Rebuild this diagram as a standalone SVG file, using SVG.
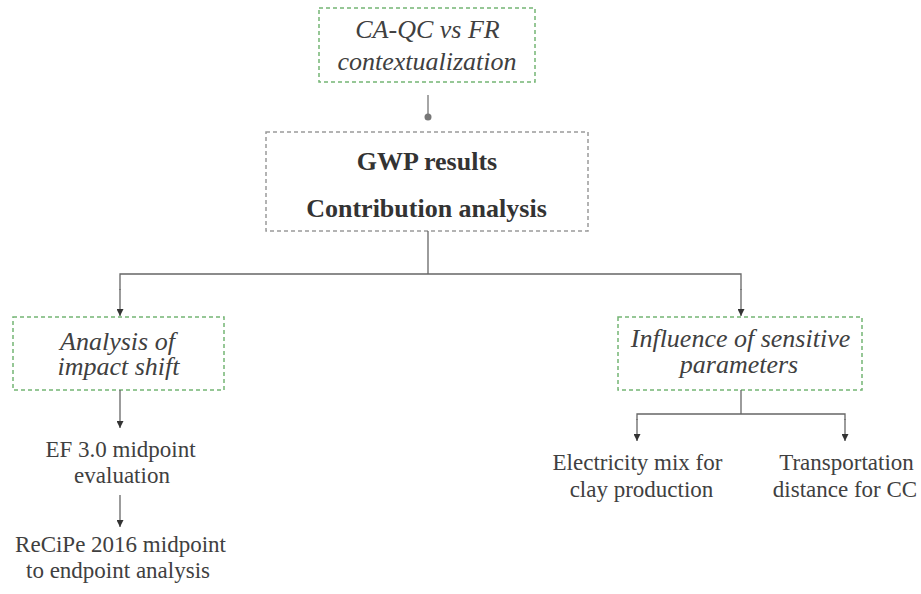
<svg xmlns="http://www.w3.org/2000/svg" width="921" height="594" viewBox="0 0 921 594">
<defs>
<marker id="ah" viewBox="0 0 10 10" refX="10" refY="5" markerWidth="7" markerHeight="7" markerUnits="userSpaceOnUse" orient="auto">
<path d="M0,0 L10,5 L0,10 z" fill="#333"/>
</marker>
</defs>
<rect fill="#fff" width="921" height="594"/>
<g id="n-context">
<rect fill="none" stroke="#74b574" stroke-width="1.5" stroke-dasharray="4 3" x="319" y="8" width="216" height="74"/>
<text font-family="Liberation Serif" font-style="italic" font-size="26" fill="#404040" text-anchor="middle" x="427.5" y="38">CA-QC vs FR</text>
<text font-family="Liberation Serif" font-style="italic" font-size="26" fill="#404040" text-anchor="middle" x="427" y="70">contextualization</text>
</g>
<g id="n-gwp">
<rect fill="none" stroke="#9a9a9a" stroke-width="1.5" stroke-dasharray="4 3" x="266" y="132" width="322" height="99"/>
<text font-family="Liberation Serif" font-weight="bold" font-size="26" fill="#333" text-anchor="middle" x="427" y="170">GWP results</text>
<text font-family="Liberation Serif" font-weight="bold" font-size="26" fill="#333" text-anchor="middle" x="426.5" y="217">Contribution analysis</text>
</g>
<g id="n-impact">
<rect fill="none" stroke="#74b574" stroke-width="1.5" stroke-dasharray="4 3" x="13" y="317" width="211" height="73"/>
<text font-family="Liberation Serif" font-style="italic" font-size="26" fill="#404040" text-anchor="middle" x="117.5" y="350">Analysis of</text>
<text font-family="Liberation Serif" font-style="italic" font-size="26" fill="#404040" text-anchor="middle" x="118.5" y="375">impact shift</text>
</g>
<g id="n-ef">
<text font-family="Liberation Serif" font-size="23" fill="#404040" text-anchor="middle" x="120.5" y="457">EF 3.0 midpoint</text>
<text font-family="Liberation Serif" font-size="23" fill="#404040" text-anchor="middle" x="122" y="483">evaluation</text>
</g>
<g id="n-recipe">
<text font-family="Liberation Serif" font-size="23" fill="#404040" text-anchor="middle" x="120.5" y="552">ReCiPe 2016 midpoint</text>
<text font-family="Liberation Serif" font-size="23" fill="#404040" text-anchor="middle" x="118" y="578">to endpoint analysis</text>
</g>
<g id="n-sensitive">
<rect fill="none" stroke="#74b574" stroke-width="1.5" stroke-dasharray="4 3" x="618" y="317" width="244" height="73"/>
<text font-family="Liberation Serif" font-style="italic" font-size="26" fill="#404040" text-anchor="middle" x="740.5" y="347">Influence of sensitive</text>
<text font-family="Liberation Serif" font-style="italic" font-size="26" fill="#404040" text-anchor="middle" x="739" y="373">parameters</text>
</g>
<g id="n-elec">
<text font-family="Liberation Serif" font-size="23" fill="#404040" text-anchor="middle" x="637.5" y="470">Electricity mix for</text>
<text font-family="Liberation Serif" font-size="23" fill="#404040" text-anchor="middle" x="641.5" y="497">clay production</text>
</g>
<g id="n-transport">
<text font-family="Liberation Serif" font-size="23" fill="#404040" text-anchor="middle" x="846.5" y="470">Transportation</text>
<text font-family="Liberation Serif" font-size="23" fill="#404040" text-anchor="middle" x="845" y="497">distance for CC</text>
</g>
<g id="connectors" fill="none" stroke="#666" stroke-width="1.3">
<line x1="428" y1="95" x2="428" y2="116" stroke="#888" stroke-width="1.5"/>
<circle cx="428" cy="117" r="3.5" fill="#777" stroke="none"/>
<polyline points="428,231 428,274"/>
<polyline points="120,290 120,274 741,274 741,290"/>
<line x1="120" y1="289" x2="120" y2="316" marker-end="url(#ah)"/>
<line x1="741" y1="289" x2="741" y2="316" marker-end="url(#ah)"/>
<line x1="120" y1="390" x2="120" y2="428" marker-end="url(#ah)"/>
<line x1="120" y1="495" x2="120" y2="527" marker-end="url(#ah)"/>
<polyline points="741,390 741,414"/>
<polyline points="637,420 637,414 845,414 845,420"/>
<line x1="637" y1="419" x2="637" y2="441" marker-end="url(#ah)"/>
<line x1="845" y1="419" x2="845" y2="441" marker-end="url(#ah)"/>
</g>
</svg>
